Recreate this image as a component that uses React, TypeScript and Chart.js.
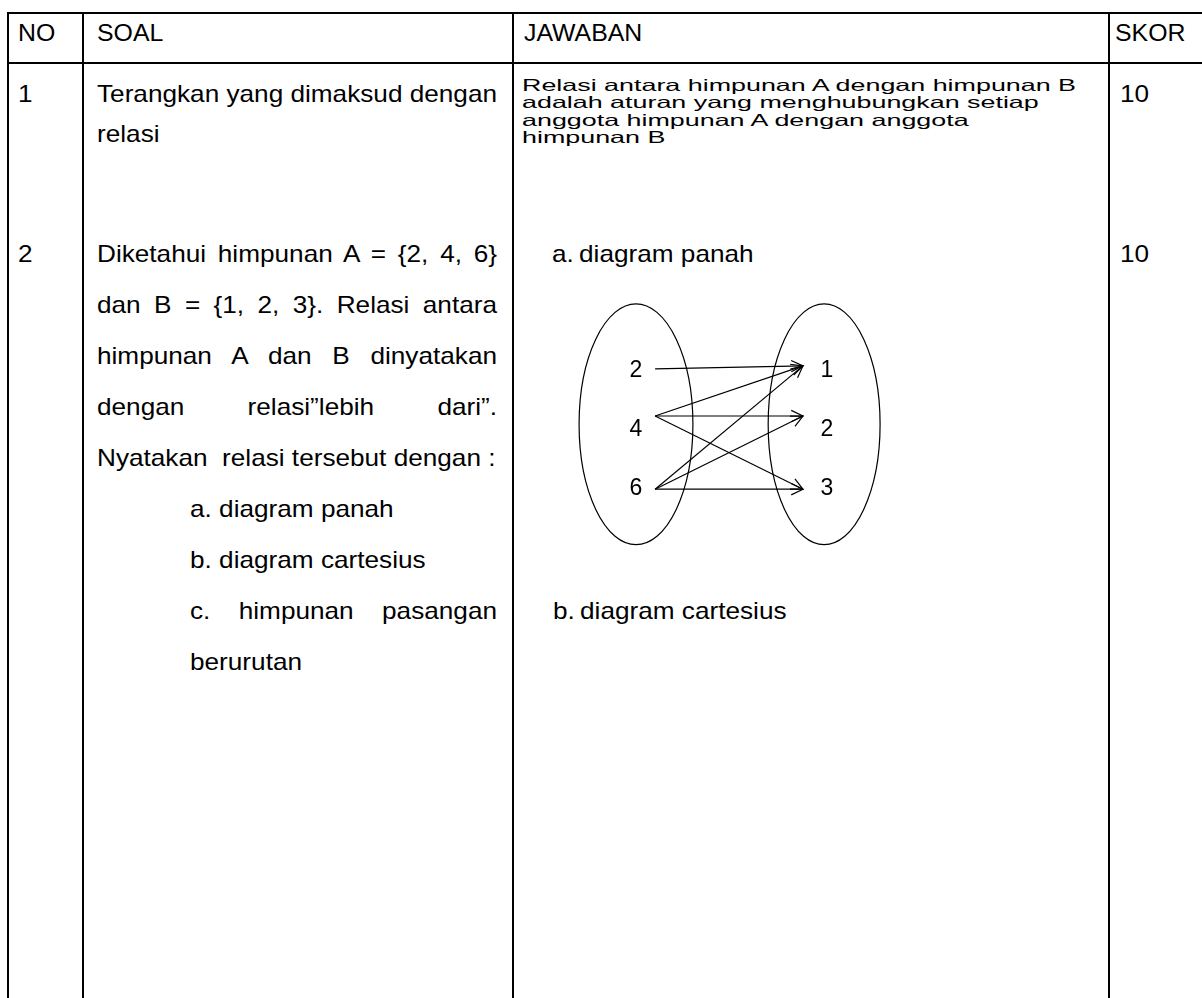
import React, { useEffect, useMemo, useRef } from 'react';
import { Chart, registerables } from 'chart.js';

Chart.register(...registerables);

// ---------- data ----------
const HEADERS = ['NO', 'SOAL', 'JAWABAN', 'SKOR'];
const ROW_NUMBERS = ['1', '2'];
const SCORES = ['10', '10'];

const SOAL_1 = ['Terangkan yang dimaksud dengan', 'relasi'];
const SOAL_2 = [
  'Diketahui himpunan A = {2, 4, 6}',
  'dan B = {1, 2, 3}. Relasi antara',
  'himpunan A dan B dinyatakan',
  'dengan relasi\u201dlebih dari\u201d.',
  'Nyatakan\u00a0 relasi tersebut dengan :',
  'a. diagram panah',
  'b. diagram cartesius',
  'c. himpunan pasangan',
  'berurutan',
];
const JAWABAN_1 = [
  'Relasi antara himpunan A dengan himpunan B',
  'adalah aturan yang menghubungkan setiap',
  'anggota himpunan A dengan anggota',
  'himpunan B',
];
const JAWABAN_2 = ['a.\u2009diagram panah', 'b.\u2009diagram cartesius'];

// arrow diagram (relation "lebih dari": a > b)
const SET_A = ['2', '4', '6'];
const SET_B = ['1', '2', '3'];
const RELATION_PAIRS: [number, number][] = [
  [0, 0],
  [1, 0], [1, 1], [1, 2],
  [2, 0], [2, 1], [2, 2],
];
const ARROW_START_Y = [-0.02, 0.78, 2.02];
const ARROW_END_Y = [-0.07, 0.78, 2.02];
const ARROW_START_X = 0.1;
const ARROW_END_X = 0.874;

// ---------- layout / style ----------
const SOAL_FONT = "'Liberation Sans Narrow', 'Liberation Sans', Arial, sans-serif";
const JAWAB_FONT = "'Liberation Sans', Arial, sans-serif";
const SOAL_SIZE = 24;
const JAWAB_SIZE = 16.5;

function measure(text: string, font: string) {
  const c = document.createElement('canvas').getContext('2d')!;
  c.font = font;
  return c.measureText(text).width;
}

type LineProps = {
  text: string;
  x: number;
  base: number;
  size: number;
  family: string;
  sx: number;
  width?: number;
};

function TextLine({ text, x, base, size, family, sx, width }: LineProps) {
  const justify = width !== undefined;
  return (
    <div
      style={{
        position: 'absolute',
        left: x,
        top: base - 0.85 * size,
        fontFamily: family,
        fontSize: size,
        lineHeight: `${size}px`,
        color: '#000',
        whiteSpace: justify ? 'normal' : 'pre',
        width: justify ? width! / sx : undefined,
        textAlign: justify ? 'justify' : 'left',
        textAlignLast: justify ? 'justify' : undefined,
        transform: `scaleX(${sx})`,
        transformOrigin: '0 0',
      } as React.CSSProperties}
    >
      {text}
    </div>
  );
}

function ArrowDiagram() {
  const ref = useRef<HTMLCanvasElement>(null);
  useEffect(() => {
    const datasets = RELATION_PAIRS.map(([a, b]) => ({
      label: `${SET_A[a]} > ${SET_B[b]}`,
      data: [
        { x: ARROW_START_X, y: ARROW_START_Y[a] },
        { x: ARROW_END_X, y: ARROW_END_Y[b] },
      ],
      showLine: true,
      borderColor: '#000',
      borderWidth: 1.2,
      pointRadius: 0,
      fill: false,
      tension: 0,
    }));

    const vennPlugin = {
      id: 'venn',
      beforeDatasetsDraw(chart: any) {
        const { ctx, scales } = chart;
        const xs = scales.x;
        const ys = scales.y;
        const ry = Math.abs(ys.getPixelForValue(0.92 + 2.04) - ys.getPixelForValue(0.92));
        const cy = ys.getPixelForValue(0.92);
        ctx.save();
        ctx.strokeStyle = '#000';
        ctx.lineWidth = 1.2;
        [[0, 0.298], [0.985, 0.293]].forEach(([cxv, rxv]) => {
          const cx = xs.getPixelForValue(cxv);
          const rx = Math.abs(xs.getPixelForValue(cxv + rxv) - cx);
          ctx.beginPath();
          ctx.ellipse(cx, cy, rx, ry, 0, 0, Math.PI * 2);
          ctx.stroke();
        });
        ctx.restore();
      },
      afterDatasetsDraw(chart: any) {
        const { ctx, scales } = chart;
        const xs = scales.x;
        const ys = scales.y;
        ctx.save();
        ctx.strokeStyle = '#000';
        ctx.lineWidth = 1.2;
        chart.data.datasets.forEach((_: any, i: number) => {
          const meta = chart.getDatasetMeta(i);
          const p0 = meta.data[0];
          const p1 = meta.data[1];
          const ang = Math.atan2(p1.y - p0.y, p1.x - p0.x);
          const len = 13;
          const spread = 0.45;
          ctx.beginPath();
          ctx.moveTo(p1.x - len * Math.cos(ang - spread), p1.y - len * Math.sin(ang - spread));
          ctx.lineTo(p1.x, p1.y);
          ctx.lineTo(p1.x - len * Math.cos(ang + spread), p1.y - len * Math.sin(ang + spread));
          ctx.stroke();
        });
        ctx.fillStyle = '#000';
        ctx.font = "23px 'Liberation Sans', Arial, sans-serif";
        ctx.textAlign = 'center';
        ctx.textBaseline = 'middle';
        SET_A.forEach((t, i) => ctx.fillText(t, xs.getPixelForValue(0), ys.getPixelForValue(i) + 1));
        SET_B.forEach((t, i) => ctx.fillText(t, xs.getPixelForValue(1), ys.getPixelForValue(i) + 1));
        ctx.restore();
      },
    };

    const chart = new Chart(ref.current!, {
      type: 'scatter',
      data: { datasets },
      options: {
        responsive: false,
        animation: false,
        layout: { padding: 0 },
        plugins: { legend: { display: false }, tooltip: { enabled: false } },
        scales: {
          x: { type: 'linear', display: false, min: -0.3979, max: 1.3822 },
          y: { type: 'linear', display: false, reverse: true, min: -1.356, max: 3.3898 },
        },
      },
      plugins: [vennPlugin],
    } as any);
    return () => chart.destroy();
  }, []);
  return (
    <canvas
      ref={ref}
      width={340}
      height={280}
      style={{ position: 'absolute', left: 560, top: 290, width: 340, height: 280 }}
    />
  );
}

export default function App() {
  const soalSx = useMemo(
    () => 400 / measure(SOAL_1[0], `${SOAL_SIZE}px ${SOAL_FONT}`),
    []
  );
  const jawabSx = useMemo(
    () => 557 / measure(JAWABAN_1[0], `${JAWAB_SIZE}px ${JAWAB_FONT}`),
    []
  );
  const S = { size: SOAL_SIZE, family: SOAL_FONT, sx: soalSx };
  const H = { size: SOAL_SIZE, family: SOAL_FONT, sx: soalSx * 0.95 };
  const J = { size: JAWAB_SIZE, family: JAWAB_FONT, sx: jawabSx };

  const headerX = [18, 97, 524, 1115];
  const vLines = [7, 82, 512, 1108];
  const soal2Base = [262, 313, 364, 415, 466, 517, 568, 619, 670];
  const soal2X = [97, 97, 97, 97, 97, 190, 190, 190, 190];
  const soal2W: (number | undefined)[] = [400, 400, 400, 400, undefined, undefined, undefined, 307, undefined];
  const jawab1Base = [91, 108.5, 126, 143.5];

  return (
    <div
      style={{
        position: 'absolute',
        left: 0,
        top: 0,
        width: 1202,
        height: 998,
        overflow: 'hidden',
        background: '#fff',
      }}
    >
      {/* table rules */}
      <div style={{ position: 'absolute', left: 7, top: 12, width: 1195, height: 2, background: '#000' }} />
      <div style={{ position: 'absolute', left: 7, top: 62, width: 1195, height: 2, background: '#000' }} />
      {vLines.map((x) => (
        <div key={x} style={{ position: 'absolute', left: x, top: 12, width: 2, height: 986, background: '#000' }} />
      ))}

      {HEADERS.map((h, i) => (
        <TextLine key={h} text={h} x={headerX[i]} base={41} {...H} />
      ))}

      {ROW_NUMBERS.map((n, i) => (
        <TextLine key={'n' + n} text={n} x={18} base={i === 0 ? 102 : 262} {...S} />
      ))}
      {SCORES.map((n, i) => (
        <TextLine key={'s' + i} text={n} x={1120} base={i === 0 ? 102 : 262} {...S} />
      ))}

      <TextLine text={SOAL_1[0]} x={97} base={102} {...S} />
      <TextLine text={SOAL_1[1]} x={97} base={142} {...S} />

      {SOAL_2.map((t, i) => (
        <TextLine key={'q' + i} text={t} x={soal2X[i]} base={soal2Base[i]} width={soal2W[i]} {...S} />
      ))}

      {JAWABAN_1.map((t, i) => (
        <TextLine key={'j' + i} text={t} x={522} base={jawab1Base[i]} {...J} />
      ))}

      <TextLine text={JAWABAN_2[0]} x={552} base={262} {...S} />
      <TextLine text={JAWABAN_2[1]} x={553} base={619} {...S} />

      <ArrowDiagram />
    </div>
  );
}
